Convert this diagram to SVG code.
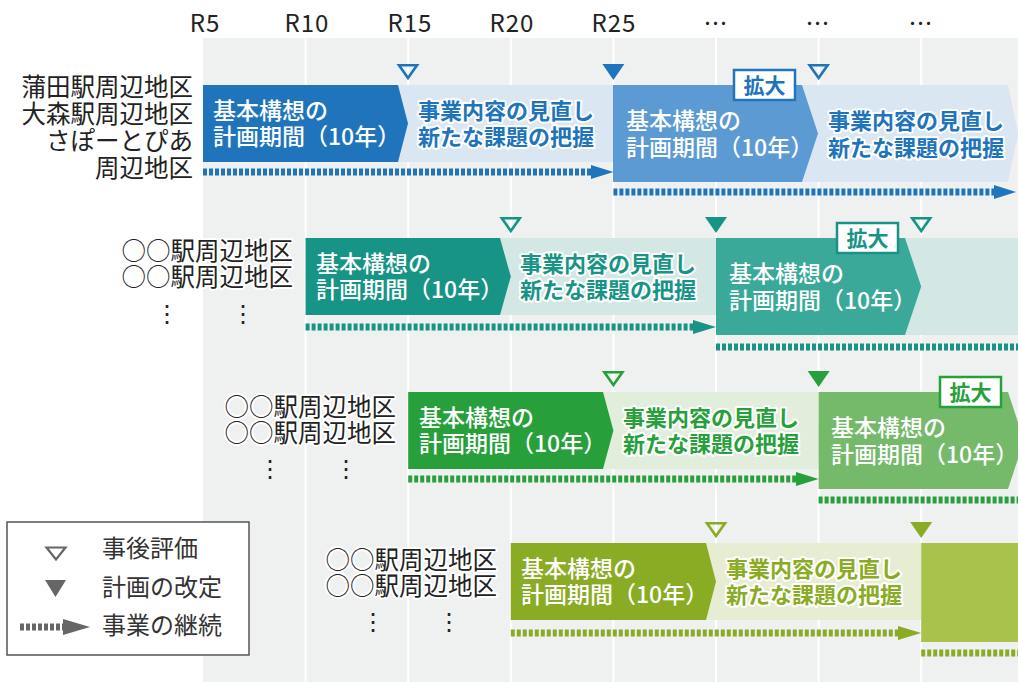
<svg xmlns="http://www.w3.org/2000/svg" width="1018" height="682" viewBox="0 0 1018 682">
<style>
text{font-family:"Noto Sans CJK JP","Noto Sans",sans-serif}
.hdr{font-size:24px;fill:#222;text-anchor:middle;letter-spacing:1px}
.lbl{font-size:24.5px;fill:#222;text-anchor:end;stroke:#fff;stroke-width:4;paint-order:stroke;stroke-linejoin:round}
.vd{font-size:24px;fill:#222;text-anchor:middle}
.bt{font-size:23px;fill:#fff;font-weight:500}
.nt{font-size:22px;font-weight:700;stroke:#fff;stroke-width:4;paint-order:stroke;stroke-linejoin:round}
.tagr{fill:#fff;stroke-width:2.5}
.tagt{font-size:21px;font-weight:700;text-anchor:middle}
.dt{stroke-width:7;stroke-dasharray:4 2;fill:none}
.ev{fill:none;stroke-width:2.6;stroke-linejoin:miter}
.grid{stroke:#fff;stroke-width:2}
.lg{font-size:24px;fill:#333}
.c1{fill:#2074bc}.s1{stroke:#2074bc}.b1{fill:#dae6f2}.m1{fill:#5c9ad3}
.c2{fill:#189486}.s2{stroke:#189486}.b2{fill:#d3e8e4}.m2{fill:#3aa99a}
.c3{fill:#27a03c}.s3{stroke:#27a03c}.b3{fill:#e0eedb}.m3{fill:#75b96a}
.c4{fill:#8aac24}.s4{stroke:#8aac24}.b4{fill:#e7edd3}.m4{fill:#a8c24c}
</style>
<rect width="1018" height="682" fill="#fff"/>
<g id="timeline">
<rect x="203" y="38" width="815" height="644" fill="#eff0f0"/>
<g class="grid">
<line x1="305.6" y1="38" x2="305.6" y2="682"/>
<line x1="408.2" y1="38" x2="408.2" y2="682"/>
<line x1="510.8" y1="38" x2="510.8" y2="682"/>
<line x1="613.4" y1="38" x2="613.4" y2="682"/>
<line x1="716" y1="38" x2="716" y2="682"/>
<line x1="818.6" y1="38" x2="818.6" y2="682"/>
<line x1="921.2" y1="38" x2="921.2" y2="682"/>
</g>
<text class="hdr" x="205" y="32">R5</text>
<text class="hdr" x="307" y="32">R10</text>
<text class="hdr" x="410" y="32">R15</text>
<text class="hdr" x="512" y="32">R20</text>
<text class="hdr" x="614" y="32">R25</text>
<text class="hdr" x="716" y="32">…</text>
<text class="hdr" x="818" y="32">…</text>
<text class="hdr" x="921" y="32">…</text>
</g>

<!-- Row 1 -->
<g id="row1-label">
<text class="lbl" x="193" y="96">蒲田駅周辺地区</text>
<text class="lbl" x="193" y="123">大森駅周辺地区</text>
<text class="lbl" x="193" y="150">さぽーとぴあ</text>
<text class="lbl" x="193" y="177">周辺地区</text>
</g>
<g id="row1-review1">
<rect class="b1" x="203" y="85" width="410" height="77"/>
<text class="nt c1" x="418" y="119">事業内容の見直し</text>
<text class="nt c1" x="418" y="145">新たな課題の把握</text>
</g>
<g id="row1-plan1">
<polygon class="c1" points="203,85 398,85 408,123.5 398,162 203,162"/>
<text class="bt" x="213" y="119">基本構想の</text>
<text class="bt" x="213" y="145">計画期間（10年）</text>
</g>
<g id="row1-review2">
<polygon class="b1" points="790,85 1008,85 1018,133.5 1008,182 790,182"/>
<text class="nt c1" x="828" y="129">事業内容の見直し</text>
<text class="nt c1" x="828" y="156">新たな課題の把握</text>
</g>
<g id="row1-plan2">
<polygon class="m1" points="613,85 802,85 818,133.5 802,182 613,182"/>
<text class="bt" x="626" y="129">基本構想の</text>
<text class="bt" x="626" y="156">計画期間（10年）</text>
<rect class="tagr s1" x="734" y="70" width="61" height="30"/>
<text class="tagt c1" x="764.5" y="92.5">拡大</text>
</g>
<g id="row1-markers">
<polygon class="ev s1" points="399,65.3 417,65.3 408,78"/>
<polygon class="c1" points="602.4,64 624.4,64 613.4,80"/>
<polygon class="ev s1" points="809.6,65.3 827.6,65.3 818.6,78"/>
</g>

<!-- Row 2 -->
<g id="row2-label">
<text class="lbl" x="293" y="260">○○駅周辺地区</text>
<text class="lbl" x="293" y="286">○○駅周辺地区</text>
<text class="vd" x="167" y="322">⋮</text>
<text class="vd" x="243" y="322">⋮</text>
</g>
<g id="row2-review1">
<rect class="b2" x="305.6" y="238" width="410.4" height="77"/>
<text class="nt c2" x="520" y="272">事業内容の見直し</text>
<text class="nt c2" x="520" y="298">新たな課題の把握</text>
</g>
<g id="row2-plan1">
<polygon class="c2" points="305.6,238 500,238 510.8,276.5 500,315 305.6,315"/>
<text class="bt" x="316" y="272">基本構想の</text>
<text class="bt" x="316" y="298">計画期間（10年）</text>
</g>
<g id="row2-review2">
<rect class="b2" x="890" y="238" width="128" height="97"/>
</g>
<g id="row2-plan2">
<polygon class="m2" points="716,238 905,238 921.2,286.5 905,335 716,335"/>
<text class="bt" x="729" y="282">基本構想の</text>
<text class="bt" x="729" y="309">計画期間（10年）</text>
<rect class="tagr s2" x="837" y="223" width="61" height="30"/>
<text class="tagt c2" x="867.5" y="245.5">拡大</text>
</g>
<g id="row2-markers">
<polygon class="ev s2" points="501.8,218.3 519.8,218.3 510.8,231"/>
<polygon class="c2" points="705,217 727,217 716,233"/>
<polygon class="ev s2" points="912.2,218.3 930.2,218.3 921.2,231"/>
</g>

<!-- Row 3 -->
<g id="row3-label">
<text class="lbl" x="396" y="416">○○駅周辺地区</text>
<text class="lbl" x="396" y="442">○○駅周辺地区</text>
<text class="vd" x="270" y="477">⋮</text>
<text class="vd" x="346" y="477">⋮</text>
</g>
<g id="row3-review1">
<rect class="b3" x="408.2" y="392" width="410.4" height="77"/>
<text class="nt c3" x="623" y="426">事業内容の見直し</text>
<text class="nt c3" x="623" y="452">新たな課題の把握</text>
</g>
<g id="row3-plan1">
<polygon class="c3" points="408.2,392 603,392 613.4,430.5 603,469 408.2,469"/>
<text class="bt" x="419" y="426">基本構想の</text>
<text class="bt" x="419" y="452">計画期間（10年）</text>
</g>
<g id="row3-plan2">
<polygon class="m3" points="818.6,392 1008,392 1024,440.5 1008,489 818.6,489"/>
<text class="bt" x="831" y="436">基本構想の</text>
<text class="bt" x="831" y="463">計画期間（10年）</text>
<rect class="tagr s3" x="940" y="377" width="61" height="30"/>
<text class="tagt c3" x="970.5" y="399.5">拡大</text>
</g>
<g id="row3-markers">
<polygon class="ev s3" points="604.4,372.3 622.4,372.3 613.4,385"/>
<polygon class="c3" points="807.6,371 829.6,371 818.6,387"/>
</g>

<!-- Row 4 -->
<g id="row4-label">
<text class="lbl" x="497" y="569">○○駅周辺地区</text>
<text class="lbl" x="497" y="595">○○駅周辺地区</text>
<text class="vd" x="373" y="630">⋮</text>
<text class="vd" x="449" y="630">⋮</text>
</g>
<g id="row4-review1">
<rect class="b4" x="510.8" y="543" width="410.4" height="77"/>
<text class="nt c4" x="726" y="577">事業内容の見直し</text>
<text class="nt c4" x="726" y="603">新たな課題の把握</text>
</g>
<g id="row4-plan1">
<polygon class="c4" points="510.8,543 706,543 716,581.5 706,620 510.8,620"/>
<text class="bt" x="521" y="577">基本構想の</text>
<text class="bt" x="521" y="603">計画期間（10年）</text>
</g>
<g id="row4-plan2">
<rect class="m4" x="921.2" y="543" width="96.8" height="99"/>
</g>
<g id="row4-markers">
<polygon class="ev s4" points="707,523.3 725,523.3 716,536"/>
<polygon class="c4" points="910.2,522 932.2,522 921.2,538"/>
</g>

<!-- Connectors: continuation arrows -->
<g id="connectors">
<line class="dt s1" x1="203" y1="172" x2="592" y2="172"/>
<polygon class="c1" points="591,165 613.4,172 591,179"/>
<line class="dt s1" x1="613.4" y1="192" x2="995" y2="192"/>
<polygon class="c1" points="994,185 1016,192 994,199"/>
<line class="dt s2" x1="305.6" y1="327" x2="694" y2="327"/>
<polygon class="c2" points="693,320 716,327 693,334"/>
<line class="dt s2" x1="716" y1="347" x2="1018" y2="347"/>
<line class="dt s3" x1="408.2" y1="479" x2="797" y2="479"/>
<polygon class="c3" points="796,472 818.6,479 796,486"/>
<line class="dt s3" x1="818.6" y1="500" x2="1018" y2="500"/>
<line class="dt s4" x1="510.8" y1="633" x2="899" y2="633"/>
<polygon class="c4" points="898,626 921.2,633 898,640"/>
<line class="dt s4" x1="921.2" y1="653" x2="1018" y2="653"/>
</g>

<!-- Legend -->
<g id="legend">
<rect x="7" y="522" width="242" height="133" fill="#fff" stroke="#555" stroke-width="1.5"/>
<polygon points="46.5,547.5 65.5,547.5 56,559.5" fill="none" stroke="#666" stroke-width="2.2"/>
<polygon points="45,580 66,580 55.5,597" fill="#666"/>
<line x1="20" y1="627" x2="64" y2="627" stroke="#666" stroke-width="7" stroke-dasharray="4 2"/>
<polygon points="63,619 90,627 63,635" fill="#666"/>
<text class="lg" x="102" y="557">事後評価</text>
<text class="lg" x="102" y="596">計画の改定</text>
<text class="lg" x="102" y="634">事業の継続</text>
</g>
</svg>
